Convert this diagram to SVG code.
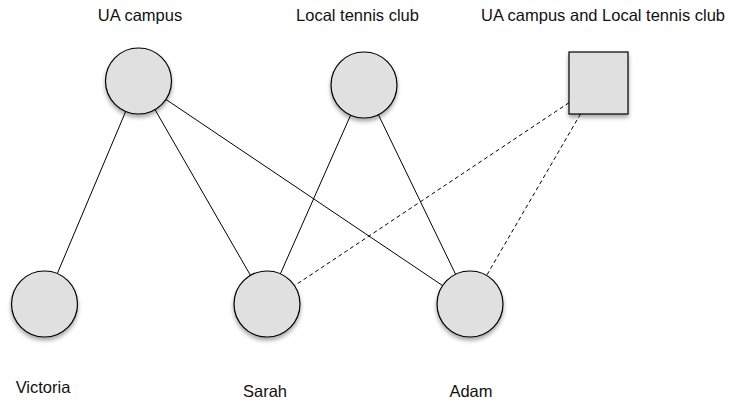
<svg xmlns="http://www.w3.org/2000/svg" width="729" height="402" viewBox="0 0 729 402">
  <defs>
    <filter id="shadow" x="-30%" y="-30%" width="160%" height="170%">
      <feDropShadow dx="0" dy="3" stdDeviation="2" flood-color="#000" flood-opacity="0.35"/>
    </filter>
  </defs>
  <style>
    .shape { fill: #e0e0e0; stroke: #000; stroke-width: 1.2; filter: url(#shadow); }
    .label { font-family: "Liberation Sans", Arial, sans-serif; font-size: 16.5px; fill: #111; text-anchor: middle; }
    .edge { stroke: #000; stroke-width: 1; fill: none; }
    .dashed { stroke-dasharray: 4 3; }
  </style>
  <rect width="729" height="402" fill="#fff"/>

  <!-- connectors -->
  <g id="edges">
    <line class="edge" x1="125.7" y1="111.4" x2="57.3" y2="273.6"/>
    <line class="edge" x1="155" y1="109.6" x2="250.5" y2="275.4"/>
    <line class="edge" x1="165.9" y1="99.4" x2="442.6" y2="285.6"/>
    <line class="edge" x1="350.6" y1="115.2" x2="280.4" y2="273.8"/>
    <line class="edge" x1="378.4" y1="114.7" x2="455.6" y2="274.3"/>
    <line class="edge dashed" x1="569" y1="102.7" x2="294.5" y2="285.7"/>
    <line class="edge dashed" x1="580.5" y1="114" x2="486.6" y2="275.5"/>
  </g>

  <g id="ua-campus">
    <circle class="shape" cx="138.5" cy="81" r="33"/>
    <text class="label" x="140" y="21">UA campus</text>
  </g>
  <g id="local-tennis-club">
    <circle class="shape" cx="364" cy="85" r="33"/>
    <text class="label" x="357.5" y="21">Local tennis club</text>
  </g>
  <g id="ua-and-club">
    <rect class="shape" x="569" y="52" width="59" height="62"/>
    <text class="label" x="603" y="21">UA campus and Local tennis club</text>
  </g>
  <g id="victoria">
    <circle class="shape" cx="44.5" cy="304" r="33"/>
    <text class="label" x="43" y="393">Victoria</text>
  </g>
  <g id="sarah">
    <circle class="shape" cx="267" cy="304" r="33"/>
    <text class="label" x="265" y="397">Sarah</text>
  </g>
  <g id="adam">
    <circle class="shape" cx="470" cy="304" r="33"/>
    <text class="label" x="471" y="397">Adam</text>
  </g>
</svg>
